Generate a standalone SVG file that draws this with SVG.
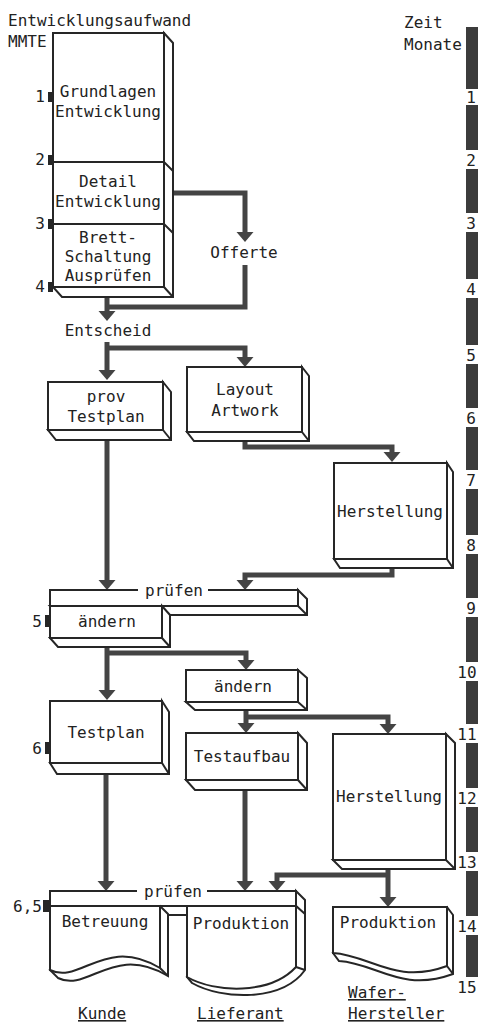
<svg xmlns="http://www.w3.org/2000/svg" width="479" height="1026" viewBox="0 0 479 1026">
<style>
text{font-family:"DejaVu Sans Mono","Liberation Mono",monospace;font-size:16px;fill:#222}
.c{text-anchor:middle}
.e{text-anchor:end}
.b{fill:#fff;stroke:#262626;stroke-width:2;stroke-linejoin:miter}
.l{fill:none;stroke:#262626;stroke-width:2}
.k{fill:#262626}
.w{fill:#3c3c3c}
.a{fill:none;stroke:#444;stroke-width:5;marker-end:url(#ah)}
.n{fill:none;stroke:#444;stroke-width:5}
.u{text-decoration:underline}
</style>
<defs>
<marker id="ah" markerUnits="userSpaceOnUse" markerWidth="20" markerHeight="20" refX="0" refY="0" viewBox="0 -10 12 20" orient="auto" overflow="visible">
<path d="M0,-8.5 L10,0 L0,8.5 z" fill="#444"/>
</marker>
</defs>
<g id="headers">
<text x="8" y="26">Entwicklungsaufwand</text>
<text x="8" y="47">MMTE</text>
<text x="404" y="28">Zeit</text>
<text x="404" y="50">Monate</text>
</g>
<g id="timeline">
<rect class="w" x="466" y="27" width="12" height="62"/>
<rect class="w" x="466" y="105" width="12" height="45"/>
<rect class="w" x="466" y="169" width="12" height="44"/>
<rect class="w" x="466" y="232" width="12" height="47"/>
<rect class="w" x="466" y="298" width="12" height="47"/>
<rect class="w" x="466" y="364" width="12" height="44"/>
<rect class="w" x="466" y="427" width="12" height="43"/>
<rect class="w" x="466" y="489" width="12" height="46"/>
<rect class="w" x="466" y="554" width="12" height="44"/>
<rect class="w" x="466" y="617" width="12" height="45"/>
<rect class="w" x="466" y="681" width="12" height="43"/>
<rect class="w" x="466" y="743" width="12" height="45"/>
<rect class="w" x="466" y="807" width="12" height="45"/>
<rect class="w" x="466" y="871" width="12" height="45"/>
<rect class="w" x="466" y="935" width="12" height="42"/>
<text class="c" x="471" y="103">1</text>
<text class="c" x="471" y="166">2</text>
<text class="c" x="471" y="229">3</text>
<text class="c" x="471" y="295">4</text>
<text class="c" x="471" y="361">5</text>
<text class="c" x="471" y="424">6</text>
<text class="c" x="471" y="486">7</text>
<text class="c" x="471" y="551">8</text>
<text class="c" x="471" y="614">9</text>
<text class="c" x="467" y="678">10</text>
<text class="c" x="467" y="740">11</text>
<text class="c" x="467" y="804">12</text>
<text class="c" x="467" y="868">13</text>
<text class="c" x="467" y="932">14</text>
<text class="c" x="467" y="993">15</text>
</g>
<g id="connectors">
<path class="a" d="M173,193 H245 V232"/>
<path class="n" d="M245,265 V307 H107"/>
<path class="a" d="M107,297 V311"/>
<path class="a" d="M107,342 V370"/>
<path class="a" d="M107,348 H245 V357"/>
<path class="a" d="M245,441 V447 H392 V452"/>
<path class="a" d="M107,441 V580"/>
<path class="a" d="M392,568 V575 H245 V580"/>
<path class="a" d="M107,647 V690"/>
<path class="a" d="M107,653 H246 V660"/>
<path class="a" d="M246,709 V723"/>
<path class="a" d="M246,717 H388 V724"/>
<path class="a" d="M106,774 V881"/>
<path class="a" d="M245,790 V881"/>
<path class="a" d="M388,869 V897"/>
<path class="a" d="M388,875 H277 V881"/>
</g>
<g id="entwicklung">
<path class="b" d="M164,33 L173,43 V297 H62 L53,287 H164 Z"/>
<path class="l" d="M164,287 L173,297"/>
<rect class="b" x="53" y="33" width="111" height="254"/>
<path class="l" d="M53,162 H164 L173,171 M53,224 H164 L173,233"/>
<rect class="k" x="48" y="92" width="5" height="10"/>
<rect class="k" x="48" y="155" width="5" height="10"/>
<rect class="k" x="48" y="219" width="5" height="10"/>
<rect class="k" x="48" y="282" width="5" height="10"/>
<text class="e" x="45" y="102">1</text>
<text class="e" x="45" y="165">2</text>
<text class="e" x="45" y="229">3</text>
<text class="e" x="45" y="292">4</text>
<text class="c" x="108" y="97">Grundlagen</text>
<text class="c" x="108" y="117">Entwicklung</text>
<text class="c" x="108" y="187">Detail</text>
<text class="c" x="108" y="207">Entwicklung</text>
<text class="c" x="108" y="243">Brett-</text>
<text class="c" x="108" y="262">Schaltung</text>
<text class="c" x="108" y="281">Ausprüfen</text>
</g>
<g id="offerte"><text class="c" x="244" y="258">Offerte</text></g>
<g id="entscheid"><text class="c" x="108" y="336">Entscheid</text></g>
<g id="prov-testplan">
<path class="b" d="M163,382 L171,392 V440 H56 L48,430 H163 Z"/>
<path class="l" d="M163,430 L171,440"/>
<rect class="b" x="48" y="382" width="115" height="48"/>
<text class="c" x="106" y="402">prov</text>
<text class="c" x="106" y="422">Testplan</text>
</g>
<g id="layout">
<path class="b" d="M302,367 L309,376 V441 H194 L187,432 H302 Z"/>
<path class="l" d="M302,432 L309,441"/>
<rect class="b" x="187" y="367" width="115" height="65"/>
<text class="c" x="245" y="395">Layout</text>
<text class="c" x="245" y="416">Artwork</text>
</g>
<g id="herstellung1">
<path class="b" d="M447,463 L453,472 V568 H340 L334,559 H447 Z"/>
<path class="l" d="M447,559 L453,568"/>
<rect class="b" x="334" y="463" width="113" height="96"/>
<text class="c" x="390" y="517">Herstellung</text>
</g>
<g id="pruefen1">
<path class="b" d="M298,590 L307,599 V615 H59 L50,606 H298 Z"/>
<path class="l" d="M298,606 L307,615"/>
<path class="b" d="M138,590 H50 V606 H298 V590 H208"/>
<text class="c" x="174" y="596">prüfen</text>
</g>
<g id="aendern1">
<path class="b" d="M162,606 L170,615 V647 H58 L50,638 H162 Z"/>
<path class="l" d="M162,638 L170,647"/>
<rect class="b" x="50" y="606" width="112" height="32"/>
<rect class="k" x="45" y="615" width="5" height="12"/>
<text class="e" x="42" y="627">5</text>
<text class="c" x="107" y="627">ändern</text>
</g>
<g id="testplan">
<path class="b" d="M162,701 L169,712 V774 H57 L50,763 H162 Z"/>
<path class="l" d="M162,763 L169,774"/>
<rect class="b" x="50" y="701" width="112" height="62"/>
<rect class="k" x="45" y="742" width="5" height="12"/>
<text class="e" x="42" y="754">6</text>
<text class="c" x="106" y="738">Testplan</text>
</g>
<g id="aendern2">
<path class="b" d="M298,670 L307,678 V710 H195 L186,702 H298 Z"/>
<path class="l" d="M298,702 L307,710"/>
<rect class="b" x="186" y="670" width="112" height="32"/>
<text class="c" x="243" y="692">ändern</text>
</g>
<g id="testaufbau">
<path class="b" d="M298,733 L307,743 V790 H195 L186,780 H298 Z"/>
<path class="l" d="M298,780 L307,790"/>
<rect class="b" x="186" y="733" width="112" height="47"/>
<text class="c" x="242" y="762">Testaufbau</text>
</g>
<g id="herstellung2">
<path class="b" d="M446,734 L455,743 V869 H342 L333,860 H446 Z"/>
<path class="l" d="M446,860 L455,869"/>
<rect class="b" x="333" y="734" width="113" height="126"/>
<text class="c" x="389" y="802">Herstellung</text>
</g>
<g id="pruefen2">
<path class="b" d="M296,891 L305,900 V915 H59 L50,906 H296 Z"/>
<path class="l" d="M296,906 L305,915"/>
<path class="b" d="M137,891 H50 V906 H296 V891 H207"/>
<rect class="k" x="43" y="900" width="7" height="12"/>
<text class="e" x="42" y="912">6,5</text>
<text class="c" x="173" y="897">prüfen</text>
</g>
<g id="betreuung">
<path class="b" d="M160,906 L168,914 V976 C113,943 88,993 58,978 L50,970 Z"/>
<path class="l" d="M160,968 L168,976"/>
<path class="b" d="M50,906 H160 V968 C105,935 80,985 50,970 Z"/>
<text class="c" x="105" y="927">Betreuung</text>
</g>
<g id="produktion-lieferant">
<path class="b" d="M296,906 L305,914 V970 C282,1002 222,1000 192,983 L187,977 Z"/>
<path class="l" d="M296,967 L305,970"/>
<path class="b" d="M187,906 H296 V967 C270,995 215,993 187,977 Z"/>
<text class="c" x="241" y="929">Produktion</text>
</g>
<g id="produktion-wafer">
<path class="b" d="M447,907 L453,915 V974 C401,993 376,963 339,961 L333,953 Z"/>
<path class="l" d="M447,966 L453,974"/>
<path class="b" d="M333,907 H447 V966 C395,985 370,955 333,953 Z"/>
<text class="c" x="388" y="928">Produktion</text>
</g>
<g id="labels">
<text class="u" x="78" y="1019">Kunde</text>
<text class="u" x="197" y="1019">Lieferant</text>
<text class="u" x="348" y="998">Wafer-</text>
<text class="u" x="348" y="1019">Hersteller</text>
</g>
</svg>
